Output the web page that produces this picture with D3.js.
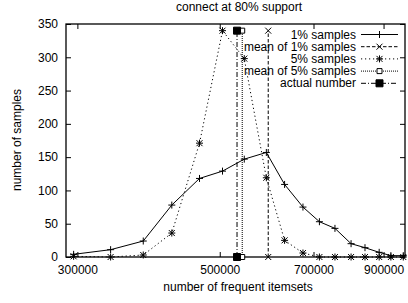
<!DOCTYPE html>
<html>
<head>
<meta charset="utf-8">
<script src="https://cdn.jsdelivr.net/npm/d3@7"></script>
<style>
	body { margin: 0; background: #fff; }
	svg { display: block; font-family: "Liberation Sans", Arial, sans-serif; }
</style>
</head>
<body>
<figure id="chart" style="margin:0"></figure>
<script>
// data
const itemsets = [296000, 338000, 380000, 421000, 465000, 505000, 546000, 591000, 631000,
	674000, 715000, 756000, 801000, 842000, 886000, 924000, 966000];
const samples1 = [4, 11, 24, 78, 118, 129, 147, 157, 109, 75, 53, 43, 20, 14, 7, 2, 2];
const samples5 = [1, 0, 3, 36, 171, 340, 298, 119, 25, 6, 0, 0, 0, 0, 0, 0, 0];
const mean1 = 595000;
const mean5 = 542000;
const actual = 532000;
const lineTop = 340;
const xTicks = [300000, 500000, 700000, 900000];
const yTicks = [0, 50, 100, 150, 200, 250, 300, 350];
const legendNames = ["1% samples", "mean of 1% samples", "5% samples", "mean of 5% samples", "actual number"];

const width = 408, height = 303;
const margin = { top: 24, right: 3, bottom: 46, left: 66 };

const svg = d3.select("#chart").append("svg").attr("width", width).attr("height", height);

const x = d3.scaleLog().domain([288000, 972000]).range([margin.left, width - margin.right]);
const y = d3.scaleLinear().domain([0, 350]).range([height - margin.bottom, margin.top]);

// marker shapes, drawn as paths around 0,0
const markers = {
	plus: "M-3.5,0H3.5M0,-3.5V3.5",
	cross: "M-3,-3L3,3M-3,3L3,-3",
	star: "M-3.5,0H3.5M0,-3.5V3.5M-3,-3L3,3M-3,3L3,-3",
	box: "M-2.5,-2.5H2.5V2.5H-2.5Z",
	fill: "M-3.5,-3.5H3.5V3.5H-3.5Z"
};

const series = [
	{ pts: itemsets.map((d, i) => [d, samples1[i]]), dash: null, mark: "plus", filled: false },
	{ pts: [[mean1, 0], [mean1, lineTop]], dash: "3.5,2", mark: "cross", filled: false },
	{ pts: itemsets.map((d, i) => [d, samples5[i]]), dash: "1.2,2.8", mark: "star", filled: false },
	{ pts: [[mean5, 0], [mean5, lineTop]], dash: "1,1", mark: "box", filled: false },
	{ pts: [[actual, 0], [actual, lineTop]], dash: "5,2,1,2", mark: "fill", filled: true }
];

// axes with inward ticks, mirrored on top and right
const gx = svg.append("g").attr("transform", "translate(0," + y(0) + ")")
	.call(d3.axisBottom(x).tickValues(xTicks).tickFormat(d3.format("d")).tickSize(-5).tickPadding(8));
svg.append("g").attr("transform", "translate(0," + margin.top + ")")
	.call(d3.axisTop(x).tickValues(xTicks).tickFormat("").tickSize(-5));
const gy = svg.append("g").attr("transform", "translate(" + margin.left + ",0)")
	.call(d3.axisLeft(y).tickValues(yTicks).tickSize(-5).tickPadding(8));
svg.append("g").attr("transform", "translate(" + x.range()[1] + ",0)")
	.call(d3.axisRight(y).tickValues(yTicks).tickFormat("").tickSize(-5));

svg.selectAll(".domain").remove();
svg.selectAll(".tick line").attr("stroke", "#000");
svg.selectAll(".tick text").attr("font-size", 12).attr("fill", "#000")
	.attr("font-family", "Liberation Sans, Arial, sans-serif");

// frame
svg.append("rect")
	.attr("x", x.range()[0]).attr("y", margin.top)
	.attr("width", x.range()[1] - x.range()[0]).attr("height", y(0) - margin.top)
	.attr("fill", "none").attr("stroke", "#000").attr("stroke-width", 1.3);

const line = d3.line().x(d => x(d[0])).y(d => y(d[1]));

series.forEach((s) => {
	svg.append("path").attr("d", line(s.pts))
		.attr("fill", "none").attr("stroke", "#000").attr("stroke-width", 1)
		.attr("stroke-dasharray", s.dash);
	svg.selectAll(null).data(s.pts).enter().append("path")
		.attr("transform", d => "translate(" + x(d[0]) + "," + y(d[1]) + ")")
		.attr("d", markers[s.mark])
		.attr("fill", s.filled ? "#000" : "#fff").attr("stroke", "#000").attr("stroke-width", 1);
});

// legend
const legend = svg.append("g");
legendNames.forEach((name, i) => {
	const ly = 34.5 + i * 12.2;
	const s = series[i];
	legend.append("text").attr("x", 356).attr("y", ly + 4).attr("text-anchor", "end")
		.attr("font-size", 12).text(name);
	legend.append("line").attr("x1", 361).attr("x2", 398).attr("y1", ly).attr("y2", ly)
		.attr("stroke", "#000").attr("stroke-width", 1).attr("stroke-dasharray", s.dash);
	legend.append("path").attr("transform", "translate(379.5," + ly + ")")
		.attr("d", markers[s.mark])
		.attr("fill", s.filled ? "#000" : "#fff").attr("stroke", "#000").attr("stroke-width", 1);
});

// titles
svg.append("text").attr("x", 239).attr("y", 11).attr("text-anchor", "middle")
	.attr("font-size", 12).text("connect at 80% support");
svg.append("text").attr("x", 238).attr("y", 291).attr("text-anchor", "middle")
	.attr("font-size", 12).text("number of frequent itemsets");
svg.append("text").attr("transform", "translate(21,140) rotate(-90)").attr("text-anchor", "middle")
	.attr("font-size", 12).text("number of samples");
</script>
</body>
</html>
